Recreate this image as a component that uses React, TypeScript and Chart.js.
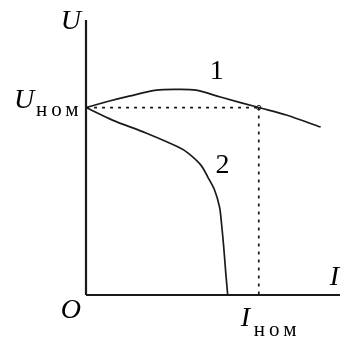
import React, { useEffect, useRef } from "react";
import { Chart, registerables } from "chart.js";

Chart.register(...registerables);

// Normalised units: I / I_nom and U / U_nom
const X_MAX = 1.47;
const Y_MAX = 1.467;
const I_NOM = 1;
const U_NOM = 1;

// Curve 1 (rising then falling characteristic)
const curve1I = [0, 0.136, 0.25, 0.409, 0.52, 0.636, 0.778, 1.0, 1.159, 1.358];
const curve1U = [1.0, 1.035, 1.061, 1.093, 1.097, 1.093, 1.056, 1.0, 0.96, 0.896];

// Curve 2 (falling characteristic, collapses to zero)
const curve2I = [0, 0.153, 0.347, 0.534, 0.591, 0.665, 0.705, 0.744, 0.773, 0.784, 0.797, 0.809, 0.82];
const curve2U = [1.0, 0.933, 0.864, 0.789, 0.757, 0.693, 0.629, 0.56, 0.469, 0.384, 0.256, 0.117, 0];

const axisULabel = "U";
const axisILabel = "I";
const originLabel = "O";
const nomSub = "ном";
const curveLabels = ["1", "2"];

const INK = "#1a1a1a";
const SERIF = "'Liberation Serif', 'DejaVu Serif', serif";

const toPts = (xs: number[], ys: number[]) => xs.map((x, i) => ({ x, y: ys[i] }));

const labelsPlugin = {
  id: "labels",
  afterDraw(chart: any) {
    const { ctx, scales } = chart;
    const xs = scales.x;
    const ys = scales.y;
    const x0 = xs.getPixelForValue(0);
    const y0 = ys.getPixelForValue(0);
    const yTop = ys.getPixelForValue(Y_MAX);
    const xRight = xs.getPixelForValue(X_MAX);
    const yNom = ys.getPixelForValue(U_NOM);
    const xNom = xs.getPixelForValue(I_NOM);
    ctx.save();
    ctx.fillStyle = "#000";
    ctx.textBaseline = "alphabetic";
    const italic = `italic 28px ${SERIF}`;
    const upright = `28px ${SERIF}`;
    const sub = `21px ${SERIF}`;

    // U (top of vertical axis)
    ctx.font = italic;
    ctx.textAlign = "right";
    ctx.fillText(axisULabel, x0 - 5, yTop + 9);

    // U_nom
    ctx.font = italic;
    ctx.textAlign = "left";
    ctx.fillText(axisULabel, 14, yNom);
    ctx.font = sub;
    (ctx as any).letterSpacing = "4px";
    ctx.fillText(nomSub, 36, yNom + 8);
    (ctx as any).letterSpacing = "0px";

    // O
    ctx.font = italic;
    ctx.textAlign = "right";
    ctx.fillText(originLabel, x0 - 5, y0 + 23);

    // I (end of horizontal axis)
    ctx.textAlign = "right";
    ctx.fillText(axisILabel, xRight - 1, y0 - 10);

    // I_nom
    ctx.textAlign = "left";
    ctx.fillText(axisILabel, xNom - 18, y0 + 31);
    ctx.font = sub;
    (ctx as any).letterSpacing = "4px";
    ctx.fillText(nomSub, xNom - 5, y0 + 41);
    (ctx as any).letterSpacing = "0px";

    // curve numbers
    ctx.font = upright;
    ctx.textAlign = "center";
    ctx.fillText(curveLabels[0], xs.getPixelForValue(0.756), ys.getPixelForValue(1.153));
    ctx.fillText(curveLabels[1], xs.getPixelForValue(0.79), ys.getPixelForValue(0.65));
    ctx.restore();
  },
};

export default function App() {
  const ref = useRef<HTMLCanvasElement | null>(null);
  useEffect(() => {
    if (!ref.current) return;
    const line = { showLine: true, pointRadius: 0, borderColor: INK, fill: false, clip: false as any };
    const chart = new Chart(ref.current, {
      type: "scatter",
      data: {
        datasets: [
          { ...line, data: toPts([0, 0], [0, Y_MAX]), borderWidth: 2.2 },
          { ...line, data: toPts([0, X_MAX], [0, 0]), borderWidth: 2.2 },
          { ...line, data: toPts(curve1I, curve1U), borderWidth: 1.7, tension: 0.3 },
          { ...line, data: toPts(curve2I, curve2U), borderWidth: 1.7, tension: 0.3 },
          { ...line, data: toPts([0, I_NOM], [U_NOM, U_NOM]), borderWidth: 1.7, borderDash: [3, 5] },
          { ...line, data: toPts([I_NOM, I_NOM], [U_NOM, 0]), borderWidth: 1.7, borderDash: [3, 5] },
          {
            data: toPts([I_NOM], [U_NOM]),
            showLine: false,
            pointRadius: 2.2,
            pointBackgroundColor: "#fff",
            pointBorderColor: INK,
            pointBorderWidth: 1,
          },
        ],
      },
      options: {
        animation: false,
        responsive: false,
        devicePixelRatio: 1,
        events: [],
        layout: { padding: { left: 86, top: 20, right: 0, bottom: 44 } },
        plugins: { legend: { display: false }, tooltip: { enabled: false } },
        scales: {
          x: { type: "linear", display: false, min: 0, max: X_MAX },
          y: { type: "linear", display: false, min: 0, max: Y_MAX },
        },
      },
      plugins: [labelsPlugin],
    });
    return () => chart.destroy();
  }, []);
  return (
    <div style={{ position: "fixed", left: 0, top: 0, width: 345, height: 339, background: "#fff" }}>
      <canvas ref={ref} width={345} height={339} style={{ display: "block" }} />
    </div>
  );
}
